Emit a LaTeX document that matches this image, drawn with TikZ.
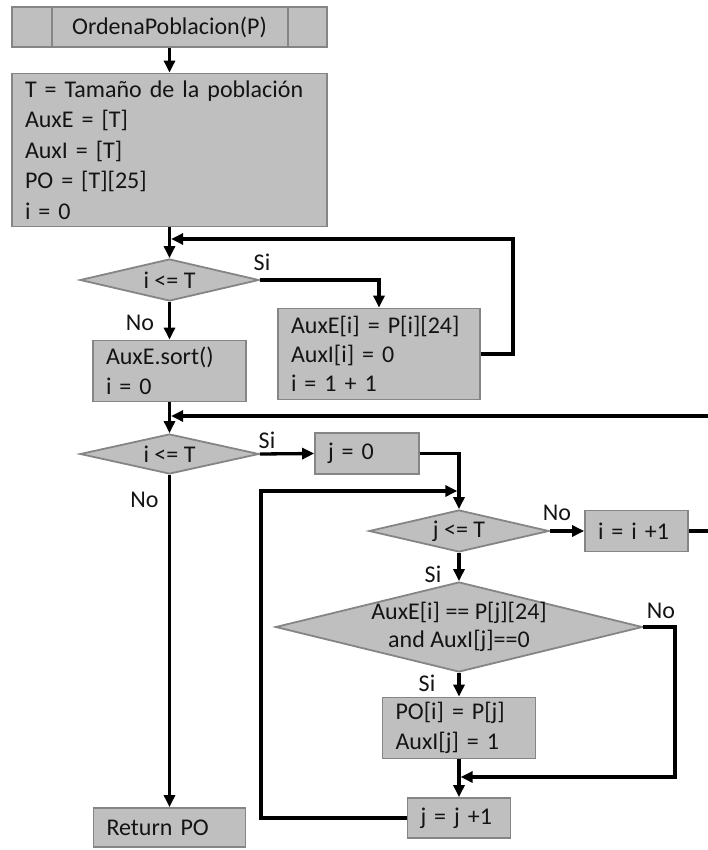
\documentclass[tikz,border=0pt]{standalone}
\usepackage{fontspec}
\setmainfont{Carlito}
\usetikzlibrary{shapes.geometric,arrows.meta,calc}
\definecolor{boxfill}{HTML}{BFBFBF}
\definecolor{boxline}{HTML}{858585}
\definecolor{ink}{HTML}{141414}
\begin{document}
\begin{tikzpicture}[x=1pt,y=-1pt,
  every node/.style={font=\fontsize{24}{30.5}\selectfont, text=ink},
  box/.style 2 args={rectangle, draw=boxline, fill=boxfill, line width=1.8pt,
    inner xsep=13pt, inner ysep=0pt, text width=#1, minimum height=#2, align=left},
  dia/.style 2 args={diamond, draw=boxline, fill=boxfill, line width=1.8pt,
    inner sep=0pt, minimum width=#1, minimum height=#2},
  wire/.style={line width=3.3pt, draw=black},
  arr/.style={wire, -{Triangle[length=12pt,width=11pt]}},
  tag/.style={inner sep=0pt}
]
\useasboundingbox (0,0) rectangle (708,850);

% ---- left column ----
\node[box={289pt}{40pt}, align=center] (start) at (169.5,27) {OrdenaPoblacion(P)};
\draw[boxline, line width=1.8pt] ($(start.north west)+(41,0)$) -- ($(start.south west)+(41,0)$);
\draw[boxline, line width=1.8pt] ($(start.north east)+(-40,0)$) -- ($(start.south east)+(-40,0)$);

\node[box={289pt}{153pt}] (init) at (169.5,150)
  {T = Tamaño de la población\\AuxE = [T]\\AuxI = [T]\\PO = [T][25]\\i = 0};

\node[dia={179pt}{42pt}, label=center:{i <= T}] (d1) at (169.5,280) {};
\node[box={176pt}{91pt}, font=\fontsize{24}{29}\selectfont] (b1) at (379,354) {AuxE[i] = P[i][24]\\AuxI[i] = 0\\i = 1 + 1};
\node[box={127pt}{61pt}] (b2) at (169.5,371) {AuxE.sort()\\i = 0};

\node[dia={179pt}{40pt}, label=center:{i <= T}] (d2) at (169.5,454) {};
\node[box={78pt}{41pt}] (b3) at (367,453.5) {j = 0};
\node[box={126pt}{39pt}] (b7) at (169.5,827.5) {Return PO};

% ---- inner loop ----
\node[dia={180pt}{42pt}, label=center:{j <= T}] (d3) at (459,531) {};
\node[box={77pt}{41pt}] (b5) at (636.5,531) {i = i +1};
\node[dia={367pt}{90pt},
      label={[align=center, font=\fontsize{24}{28}\selectfont]center:{AuxE[i] == P[j][24]\\and AuxI[j]==0}}] (d4) at (459,627) {};
\node[box={127pt}{61pt}] (b4) at (459,728) {PO[i] = P[j]\\AuxI[j] = 1};
\node[box={77pt}{40pt}] (b6) at (459,818) {j = j +1};

% ---- branch labels ----
\node[tag] (s1) at (262,262) {Si};
\node[tag] (n1) at (140,323) {No};
\node[tag] (s2) at (267,440) {Si};
\node[tag] (n2) at (144.5,500) {No};
\node[tag] (n3) at (557,513) {No};
\node[tag] (s3) at (433,574) {Si};
\node[tag] (n4) at (661,611) {No};
\node[tag] (s4) at (427,683) {Si};

% ---- junction points and bends ----
\coordinate (j1) at (169.5,239);
\coordinate (j2) at (169.5,416);
\coordinate (j3) at (459,491);
\coordinate (j4) at (459,777);
\coordinate (bendA) at (513,0);
\coordinate (bendR) at (725,0);
\coordinate (bendL) at (261,0);
\coordinate (bendN) at (675,0);

% ---- connectors ----
\draw[arr] (start.south) -- (init.north);
\draw[arr] (init.south) -- (d1.north);
\draw[arr] (d1.east) -| (b1.north);
\draw[arr] (b1.east) -- (b1.east -| bendA) |- ([xshift=1.65pt]j1);
\draw[arr] (d1.south) -- (b2.north);
\draw[arr] (b2.south) -- (d2.north);
\draw[arr] (b5.east) -- (b5.east -| bendR) |- ([xshift=1.65pt]j2);
\draw[arr] (d2.east) -- (b3.west);
\draw[arr] (b3.east) -| (d3.north);
\draw[arr] (d3.east) -- (b5.west);
\draw[arr] (d3.south) -- (d4.north);
\draw[arr] (d4.east) -- (d4.east -| bendN) |- ([xshift=1.65pt]j4);
\draw[arr] (d4.south) -- (b4.north);
\draw[arr] (b4.south) -- (b6.north);
\draw[arr] (b6.west) -- (b6.west -| bendL) |- ([xshift=-1.65pt]j3);
\draw[arr] (d2.south) -- (b7.north);
\end{tikzpicture}
\end{document}
